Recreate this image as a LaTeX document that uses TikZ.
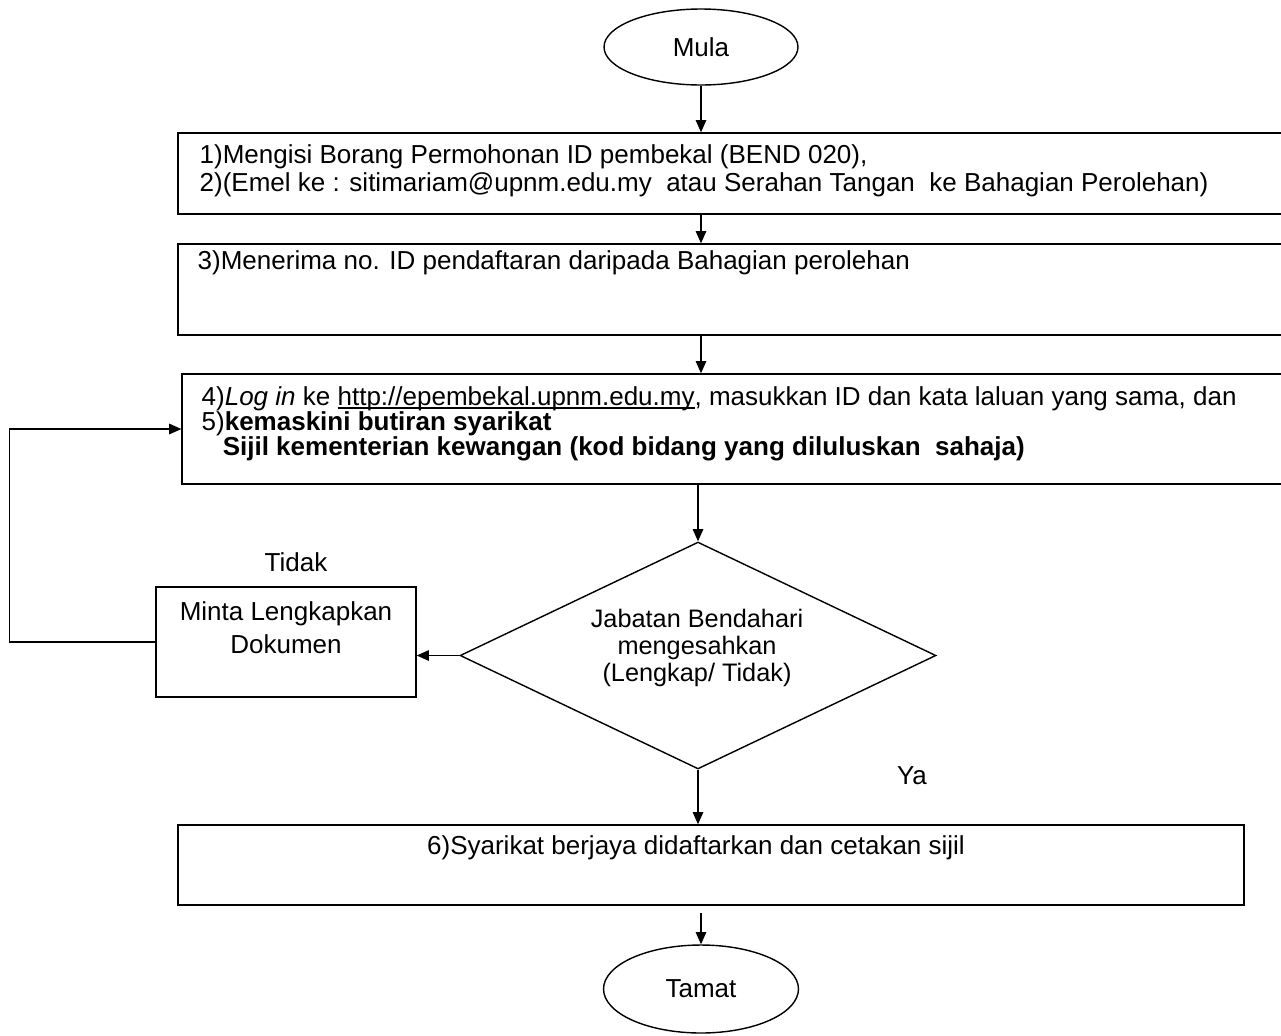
\documentclass[tikz,border=0pt]{standalone}
\usepackage{fontspec}
\setmainfont{Liberation Sans}
\usetikzlibrary{shapes.geometric,arrows.meta}
\newcommand\mytightlines{\lineskiplimit=-20pt\relax\lineskip=0pt\relax}
\newcommand\myul[1]{\setbox0=\hbox{#1}\rlap{\rule[-1.8pt]{\wd0}{0.6pt}}\box0}
\begin{document}
\begin{tikzpicture}[x=0.02cm,y=-0.02cm, line width=0.8pt,
  every node/.style={font=\fontsize{14.8}{17}\selectfont},
  box/.style={draw, rectangle, inner sep=0pt},
  term/.style={draw, ellipse, inner sep=0pt},
  txt/.style={inner sep=0pt, align=left, anchor=west},
  arr/.style={-{Triangle[length=7pt,width=6pt]}}]
\useasboundingbox (0,0) rectangle (1281,1035);
\clip (0,0) rectangle (1281,1035);

% terminals
\node[term, minimum width=3.88cm, minimum height=1.52cm] (mula) at (701,47) {Mula};
\node[term, minimum width=3.9cm, minimum height=1.76cm] (tamat) at (701,989) {Tamat};

% process boxes
\node[box, minimum width=22.44cm, minimum height=1.62cm] (b1) at (739,173.5) {};
\node[txt, font=\fontsize{14.8}{15.9}\selectfont] (t1) at (199,171) {1)Mengisi Borang Permohonan ID pembekal (BEND 020),\\
2)(Emel ke : sitimariam@upnm.edu.my\ \ atau Serahan Tangan\ \ ke Bahagian Perolehan)};

\node[box, minimum width=22.44cm, minimum height=1.82cm] (b2) at (739,289.5) {};
\node[txt] (t2) at (197,263) {3)Menerima no. ID pendaftaran daripada Bahagian perolehan};

\node[box, minimum width=22.36cm, minimum height=2.2cm] (b3) at (741,429) {};
\node[txt, font=\fontsize{14.8}{14.4}\selectfont\mytightlines] (t3) at (201,424) {4)\textit{Log in} ke \myul{http://epembekal.upnm.edu.my}, masukkan ID dan kata laluan yang sama, dan\\
5)\textbf{kemaskini butiran syarikat}\\
\hspace{12pt}\textbf{Sijil kementerian kewangan (kod bidang yang diluluskan\ \ sahaja)}};

\node[box, minimum width=21.32cm, minimum height=1.6cm] (b6) at (711,865) {};
\node[inner sep=0pt] (t6) at (696,848) {6)Syarikat berjaya didaftarkan dan cetakan sijil};

\node[box, minimum width=5.2cm, minimum height=2.2cm] (minta) at (286,642) {};
\node[inner sep=0pt, align=center, font=\fontsize{14.8}{18.7}\selectfont] (tm) at (286,628) {Minta Lengkapkan\\Dokumen};

% decision
\node[draw, diamond, inner sep=0pt, minimum width=9.52cm, minimum height=4.54cm] (dia) at (698,655.5) {};
\node[inner sep=0pt, align=center, font=\fontsize{14.4}{15.3}\selectfont] (td) at (697,648) {Jabatan Bendahari\\mengesahkan\\(Lengkap/ Tidak)};

% labels
\node (tidak) at (296,562) {Tidak};
\node (ya) at (912,776) {Ya};

% connectors
\draw[arr] (mula.south) -- (mula.south |- b1.north);
\draw[arr] (mula.south |- b1.south) -- (mula.south |- b2.north);
\draw[arr] (mula.south |- b2.south) -- (mula.south |- b3.north);
\draw[arr] (dia.north |- b3.south) -- (dia.north);
\draw[arr] (dia.west) -- (dia.west -| minta.east);
\draw[arr] (minta.west) -- ++(-146,0) |- (b3.west);
\draw[arr] (dia.south) -- (dia.south |- b6.north);
\draw[arr, shorten <=0.14cm] (mula.south |- b6.south) -- (tamat.north);
\end{tikzpicture}
\end{document}
